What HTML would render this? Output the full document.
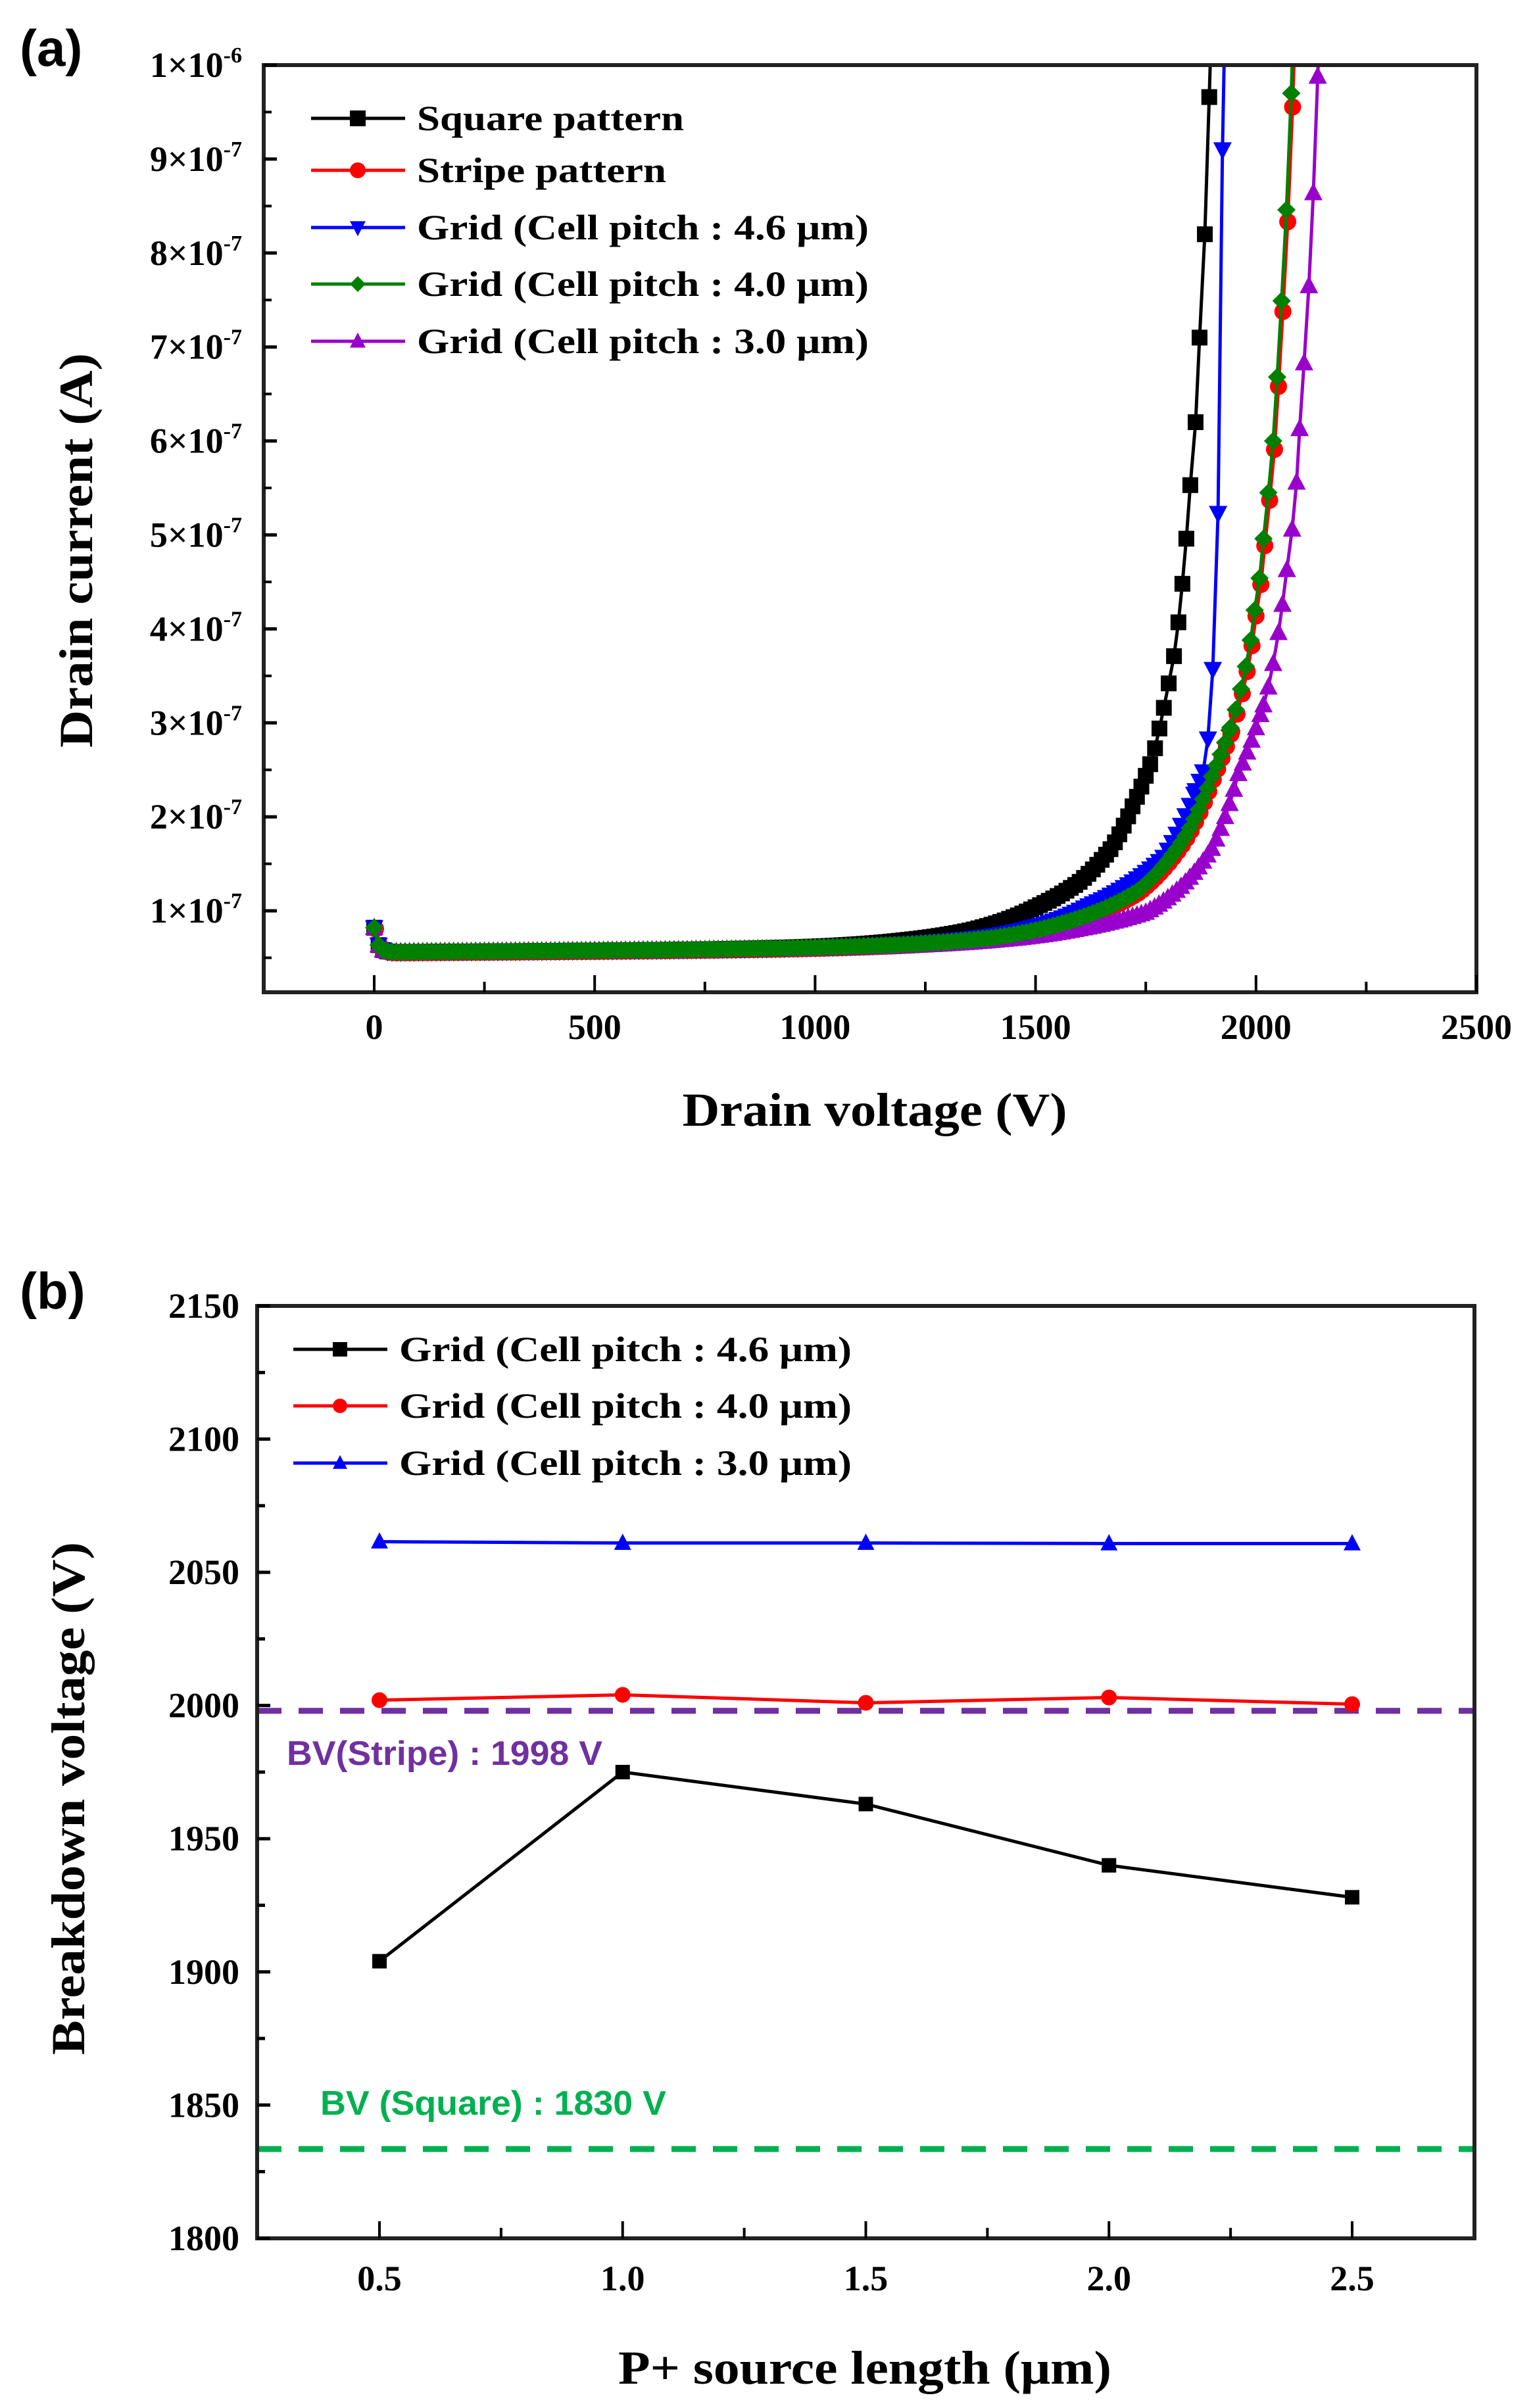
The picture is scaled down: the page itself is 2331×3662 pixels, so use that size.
<!DOCTYPE html>
<html><head><meta charset="utf-8"><style>
html,body{margin:0;padding:0;background:#fff;}
svg{display:block;}
text{font-family:"Liberation Serif",serif;font-weight:bold;}
</style></head><body>
<svg id="s" width="2331" height="3662" viewBox="0 0 2331 3662" xmlns="http://www.w3.org/2000/svg">
<defs>
<clipPath id="ca"><rect x="401" y="99" width="1844" height="1410"/></clipPath>
<clipPath id="cb"><rect x="391" y="1986" width="1851" height="1418"/></clipPath>
</defs>
<rect width="2331" height="3662" fill="#fff"/>
<text x="30" y="100" font-size="78" style="font-family:'Liberation Sans',sans-serif">(a)</text>
<text x="30" y="1990" font-size="78" style="font-family:'Liberation Sans',sans-serif">(b)</text>
<g id="ga"></g>
<g id="gb"></g>
</svg>
<script>
function mk(type,sx,sy,sz,col){
  var h=sz/2;
  if(type=="sq") return '<rect x="'+(sx-h)+'" y="'+(sy-h)+'" width="'+sz+'" height="'+sz+'" fill="'+col+'"/>';
  if(type=="ci") return '<circle cx="'+sx+'" cy="'+sy+'" r="'+h+'" fill="'+col+'"/>';
  if(type=="tu") return '<polygon points="'+sx+','+(sy-h*1.1)+' '+(sx+h)+','+(sy+h*0.8)+' '+(sx-h)+','+(sy+h*0.8)+'" fill="'+col+'"/>';
  if(type=="td") return '<polygon points="'+sx+','+(sy+h*1.1)+' '+(sx+h)+','+(sy-h*0.8)+' '+(sx-h)+','+(sy-h*0.8)+'" fill="'+col+'"/>';
  if(type=="di") return '<polygon points="'+sx+','+(sy-h)+' '+(sx+h)+','+sy+' '+sx+','+(sy+h)+' '+(sx-h)+','+sy+'" fill="'+col+'"/>';
}
function XA(v){return 569+v*0.6704;}
function YA(i){return 99+(1e-6-i)/1e-7*142.9;}
function base(v){return 5.6e-8+3e-12*v+2.6e-8*Math.exp(-v/8);}
var a="";
var S={
 black:{col:"#000",m:"sq",sz:24,
  ex:[[1000,0.3e-8],[1200,0.9e-8],[1350,1.9e-8],[1503,4.4e-8],[1600,7e-8],[1674,1.07e-7],[1720,1.5e-7]],
  tot:[[1760,2.56e-7],[1771,2.73e-7],[1781,2.94e-7],[1791,3.16e-7],[1802,3.42e-7],[1814,3.71e-7],[1824,4.07e-7],[1833,4.48e-7],[1842,4.96e-7],[1851,5.53e-7],[1863,6.2e-7],[1872,7.1e-7],[1884,8.2e-7],[1894,9.66e-7],[1900,1.06e-6]]},
 blue:{col:"#0000ff",m:"td",sz:28,
  ex:[[1000,0.2e-8],[1200,0.5e-8],[1400,1.3e-8],[1617,4.4e-8],[1789,9.5e-8]],
  tot:[[1863,2.28e-7],[1872,2.38e-7],[1880,2.48e-7],[1891,2.83e-7],[1902,3.57e-7],[1914,5.23e-7],[1924,9.1e-7],[1930,1.06e-6]]},
 green:{col:"#008000",m:"di",sz:28,
  ex:[[1000,0.2e-8],[1200,0.45e-8],[1400,1.1e-8],[1560,2.6e-8],[1732,6e-8],[1845,1.22e-7],[1902,1.84e-7]],
  tot:[[1942,2.95e-7],[1954,3.14e-7],[1966,3.36e-7],[1977,3.6e-7],[1988,3.88e-7],[1997,4.2e-7],[2008,4.54e-7],[2017,4.96e-7],[2028,5.45e-7],[2039,6.0e-7],[2048,6.68e-7],[2058,7.49e-7],[2069,8.46e-7],[2080,9.7e-7],[2086,1.06e-6]]},
 purple:{col:"#9900cc",m:"tu",sz:28,
  ex:[[1000,0.12e-8],[1200,0.3e-8],[1400,0.8e-8],[1600,2.0e-8],[1750,3.7e-8],[1902,1.06e-7],[1960,1.84e-7]],
  tot:[[2017,3.19e-7],[2028,3.38e-7],[2039,3.63e-7],[2051,3.96e-7],[2060,4.26e-7],[2070,4.63e-7],[2082,5.06e-7],[2092,5.56e-7],[2099,6.13e-7],[2109,6.83e-7],[2120,7.65e-7],[2130,8.64e-7],[2140,9.88e-7],[2145,1.06e-6]]}
};
for(var n in S){var s=S[n];s.thr=s.tot[0][0];s.k=s.ex.concat(s.tot.map(function(p){return [p[0],p[1]-base(p[0])];}));}
function exc(k,v){
  if(v<=k[0][0]){var s=(Math.log(k[1][1])-Math.log(k[0][1]))/(k[1][0]-k[0][0]);return Math.exp(Math.log(k[0][1])+s*(v-k[0][0]));}
  for(var j=0;j<k.length-1;j++){
    if(v<=k[j+1][0]){var t=(v-k[j][0])/(k[j+1][0]-k[j][0]);return Math.exp(Math.log(k[j][1])*(1-t)+Math.log(k[j+1][1])*t);}
  }
  return k[k.length-1][1];
}
function pts(s,scale){
  var p=[];
  for(var v=0;v<s.thr;v+=10)p.push([v,(base(v)+exc(s.k,v))*scale]);
  for(var j=0;j<s.tot.length;j++)p.push([s.tot[j][0],s.tot[j][1]*scale]);
  return p;
}
function drawSeries(s,scale,dx){
  var p=pts(s,scale),d="",m="";
  for(var j=0;j<p.length;j++){var x=XA(p[j][0])+dx,y=YA(p[j][1]);d+=(j?"L":"M")+x.toFixed(1)+","+y.toFixed(1);m+=mk(s.m,x,y,s.sz,s.col);}
  return '<path d="'+d+'" fill="none" stroke="'+s.col+'" stroke-width="5"/>'+m;
}
var red={col:"#ff0000",m:"ci",sz:26,thr:S.green.thr,k:S.green.k,tot:S.green.tot};
a+='<g clip-path="url(#ca)">';
a+=drawSeries(S.black,1,0);
a+=drawSeries(red,0.985,2);
a+=drawSeries(S.blue,1,0);
a+=drawSeries(S.purple,1,0);
a+=drawSeries(S.green,1,0);
a+='</g>';
a+='<rect x="401" y="99" width="1844" height="1410" fill="none" stroke="#222" stroke-width="6"/>';
for(var v=0;v<=2500;v+=250){var x=XA(v),L=(v%500==0)?26:16;a+='<line x1="'+x+'" y1="1509" x2="'+x+'" y2="'+(1509-L)+'" stroke="#000" stroke-width="4"/>';}
for(var v=0;v<=2500;v+=500){a+='<text x="'+XA(v)+'" y="1580" font-size="54" text-anchor="middle">'+v+'</text>';}
for(var n=1;n<=10;n++){var y=YA(n*1e-7);a+='<line x1="401" y1="'+y+'" x2="421" y2="'+y+'" stroke="#000" stroke-width="5"/>';
 var y2=YA(n*1e-7-0.5e-7);a+='<line x1="401" y1="'+y2+'" x2="413" y2="'+y2+'" stroke="#000" stroke-width="4"/>';
 var lab=(n==10)?'1×10<tspan dy="-22" font-size="34">-6</tspan>':n+'×10<tspan dy="-22" font-size="34">-7</tspan>';
 a+='<text x="368" y="'+(y+18)+'" font-size="54" text-anchor="end">'+lab+'</text>';}
a+='<text x="1330" y="1712" font-size="72" text-anchor="middle" textLength="585" lengthAdjust="spacingAndGlyphs">Drain voltage (V)</text>';
a+='<text transform="translate(140,837) rotate(-90)" font-size="72" text-anchor="middle" textLength="600" lengthAdjust="spacingAndGlyphs">Drain current (A)</text>';
var LA=[["Square pattern","#000","sq",180,406],["Stripe pattern","#ff0000","ci",259,379],["Grid (Cell pitch : 4.6 μm)","#0000ff","td",346,687],["Grid (Cell pitch : 4.0 μm)","#008000","di",432,687],["Grid (Cell pitch : 3.0 μm)","#9900cc","tu",519,687]];
for(var j=0;j<LA.length;j++){var r=LA[j];a+='<line x1="473" y1="'+r[3]+'" x2="616" y2="'+r[3]+'" stroke="'+r[1]+'" stroke-width="5"/>'+mk(r[2],544,r[3],24,r[1]);
 a+='<text x="634" y="'+(r[3]+18)+'" font-size="54" textLength="'+r[4]+'" lengthAdjust="spacingAndGlyphs">'+r[0]+'</text>';}
document.getElementById("ga").innerHTML=a;
function XB(l){return 577+(l-0.5)*739.5;}
function YB(v){return 1986+(2150-v)*4.051;}
var b="";
b+='<line x1="391" y1="'+YB(1998)+'" x2="2242" y2="'+YB(1998)+'" stroke="#7030a0" stroke-width="9" stroke-dasharray="37,26"/>';
b+='<line x1="391" y1="'+YB(1833.5)+'" x2="2242" y2="'+YB(1833.5)+'" stroke="#00b050" stroke-width="9" stroke-dasharray="37,26"/>';
b+='<text x="436" y="2684" font-size="52" fill="#7030a0" textLength="480" lengthAdjust="spacingAndGlyphs" style="font-family:\'Liberation Sans\',sans-serif">BV(Stripe) : 1998 V</text>';
b+='<text x="487" y="3216" font-size="52" fill="#00b050" textLength="526" lengthAdjust="spacingAndGlyphs" style="font-family:\'Liberation Sans\',sans-serif">BV (Square) : 1830 V</text>';
var L=[0.5,1.0,1.5,2.0,2.5];
var DB=[["#000","sq",[1904,1975,1963,1940,1928],22],["#ff0000","ci",[2002,2004,2001,2003,2000.5],24],["#0000ff","tu",[2061.5,2061,2061,2060.8,2060.8],26]];
b+='<g clip-path="url(#cb)">';
for(var j=0;j<DB.length;j++){var d="",m="";for(var q=0;q<5;q++){var x=XB(L[q]),y=YB(DB[j][2][q]);d+=(q?"L":"M")+x+","+y;m+=mk(DB[j][1],x,y,DB[j][3],DB[j][0]);}
 b+='<path d="'+d+'" fill="none" stroke="'+DB[j][0]+'" stroke-width="5"/>'+m;}
b+='</g>';
b+='<rect x="391" y="1986" width="1851" height="1418" fill="none" stroke="#222" stroke-width="6"/>';
for(var l=0.5;l<=2.51;l+=0.25){var x=XB(l),Lt=(Math.abs(l*2-Math.round(l*2))<0.01)?26:16;b+='<line x1="'+x+'" y1="3404" x2="'+x+'" y2="'+(3404-Lt)+'" stroke="#000" stroke-width="4"/>';}
for(var q=0;q<5;q++)b+='<text x="'+XB(L[q])+'" y="3483" font-size="54" text-anchor="middle">'+L[q].toFixed(1)+'</text>';
for(var v=1800;v<=2150;v+=25){var y=YB(v),Lt=(v%50==0)?20:12;b+='<line x1="391" y1="'+y+'" x2="'+(391+Lt)+'" y2="'+y+'" stroke="#000" stroke-width="5"/>';
 if(v%50==0)b+='<text x="364" y="'+(y+18)+'" font-size="54" text-anchor="end">'+v+'</text>';}
b+='<text x="1315" y="3625" font-size="72" text-anchor="middle" textLength="750" lengthAdjust="spacingAndGlyphs">P+ source length (μm)</text>';
b+='<text transform="translate(128,2735) rotate(-90)" font-size="72" text-anchor="middle" textLength="780" lengthAdjust="spacingAndGlyphs">Breakdown voltage (V)</text>';
var LB=[["Grid (Cell pitch : 4.6 μm)","#000","sq",2052],["Grid (Cell pitch : 4.0 μm)","#ff0000","ci",2138],["Grid (Cell pitch : 3.0 μm)","#0000ff","tu",2225]];
for(var j=0;j<3;j++){var r=LB[j];b+='<line x1="446" y1="'+r[3]+'" x2="589" y2="'+r[3]+'" stroke="'+r[1]+'" stroke-width="5"/>'+mk(r[2],517,r[3],22,r[1]);
 b+='<text x="607" y="'+(r[3]+18)+'" font-size="54" textLength="688" lengthAdjust="spacingAndGlyphs">'+r[0]+'</text>';}
document.getElementById("gb").innerHTML=b;
</script>
</body></html>
